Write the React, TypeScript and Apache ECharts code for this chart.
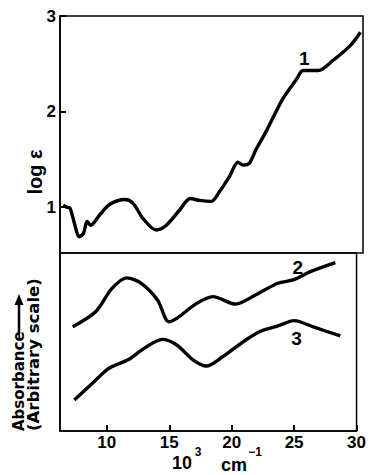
import React, { useEffect, useRef } from "react";
import * as echarts from "echarts";

const xTicks = [10, 15, 20, 25, 30];
const logTicks = [1, 2, 3];

const curve1: [number, number][] = [
  [6.5, 1.02], [6.77, 1.0], [7.03, 0.99], [7.4, 0.82], [7.74, 0.69], [8.07, 0.72], [8.38, 0.85],
  [8.64, 0.81], [9.37, 0.92], [10.16, 1.03], [11.33, 1.08], [11.98, 1.04], [12.76, 0.88],
  [13.8, 0.76], [14.58, 0.81], [15.63, 0.97], [16.46, 1.09], [17.19, 1.07], [18.1, 1.06],
  [18.74, 1.16], [19.53, 1.32], [20.2, 1.47], [20.6, 1.44], [21.1, 1.46], [21.6, 1.6],
  [22.4, 1.79], [23.7, 2.13], [24.8, 2.34], [25.3, 2.43], [26.5, 2.43], [27.6, 2.53],
  [29.0, 2.69], [29.8, 2.83],
];

const curve2: [number, number][] = [
  [7.27, 0.586], [9.1, 0.67], [10.4, 0.8], [11.6, 0.86], [12.76, 0.83], [14.06, 0.736],
  [14.97, 0.614], [15.6, 0.633], [17.2, 0.717], [18.5, 0.755], [20.3, 0.713], [21.9, 0.764],
  [23.7, 0.83], [25.0, 0.85], [26.3, 0.895], [28.3, 0.946],
];

const curve3: [number, number][] = [
  [7.4, 0.174], [8.85, 0.268], [10.16, 0.352], [11.7, 0.4], [13.0, 0.465], [14.45, 0.515],
  [15.6, 0.483], [16.9, 0.4], [17.97, 0.365], [19.27, 0.417], [21.1, 0.51], [22.4, 0.563],
  [23.7, 0.59], [25.0, 0.62], [26.6, 0.583], [28.7, 0.534],
];

const curveLabels = [
  { name: "1", grid: 0, pos: [25.4, 2.56] },
  { name: "2", grid: 1, pos: [25.3, 0.916] },
  { name: "3", grid: 1, pos: [25.2, 0.52] },
];

const FONT = "Liberation Sans";
const WIDE = "DejaVu Sans";

export default function App() {
  const ref = useRef<HTMLDivElement>(null);
  useEffect(() => {
    if (!ref.current) return;
    const chart = echarts.init(ref.current, null, { renderer: "svg" });
    const lineStyle = { color: "#000", width: 3.4 };
    const txt = (text: string, x: number, y: number, size: number, extra: any = {}) => ({
      type: "text", x, y, rotation: extra.rotation || 0,
      style: { text, fill: "#000", font: `bold ${size}px ${extra.family || FONT}`, align: extra.align || "center", verticalAlign: "middle" },
    });
    chart.setOption({
      animation: false,
      backgroundColor: "#fff",
      grid: [
        { left: 60, top: 16, width: 303, height: 237, show: true, borderColor: "#000", borderWidth: 1.5 },
        { left: 60, top: 253, width: 303, height: 178, show: true, borderColor: "#000", borderWidth: 1.5 },
      ],
      xAxis: [
        { gridIndex: 0, type: "value", min: 6.25, max: 30, show: false },
        {
          gridIndex: 1, type: "value", min: 6.25, max: 30,
          axisLine: { show: true, lineStyle: { color: "#000", width: 1.5 } },
          axisTick: { show: true, inside: true, length: 6, lineStyle: { color: "#000", width: 2 }, customValues: xTicks },
          axisLabel: { customValues: xTicks, color: "#000", fontFamily: FONT, fontWeight: "bold", fontSize: 17, margin: 3 },
          splitLine: { show: false },
        },
      ],
      yAxis: [
        {
          gridIndex: 0, type: "value", min: 0.52, max: 3,
          axisLine: { show: true, lineStyle: { color: "#000", width: 1.5 } },
          axisTick: { show: true, inside: true, length: 6, lineStyle: { color: "#000", width: 2 }, customValues: logTicks },
          axisLabel: { customValues: logTicks, color: "#000", fontFamily: FONT, fontWeight: "bold", fontSize: 17, margin: 4 },
          splitLine: { show: false },
        },
        {
          gridIndex: 1, type: "value", min: 0, max: 1,
          axisLine: { show: true, lineStyle: { color: "#000", width: 1.5 } },
          axisTick: { show: false }, axisLabel: { show: false }, splitLine: { show: false },
        },
      ],
      graphic: [
        txt("log ε", 35, 172, 20, { rotation: Math.PI / 2 }),
        txt("10", 182, 463, 18),
        txt("3", 198, 452, 12),
        txt("cm", 234, 465, 18),
        txt("−1", 255, 452, 12),
        txt("Absorbance", 19, 431, 15, { rotation: Math.PI / 2, align: "left", family: WIDE }),
        txt("(Arbitrary scale)", 33, 431, 16.5, { rotation: Math.PI / 2, align: "left", family: WIDE }),
        { type: "line", shape: { x1: 19, y1: 333, x2: 19, y2: 303 }, style: { stroke: "#000", lineWidth: 2.5 } },
        { type: "polygon", shape: { points: [[14.5, 305], [23.5, 305], [19, 294]] }, style: { fill: "#000" } },
      ],
      series: [
        { type: "line", xAxisIndex: 0, yAxisIndex: 0, data: curve1, smooth: 0.3, symbol: "none", lineStyle },
        { type: "line", xAxisIndex: 1, yAxisIndex: 1, data: curve2, smooth: 0.3, symbol: "none", lineStyle },
        { type: "line", xAxisIndex: 1, yAxisIndex: 1, data: curve3, smooth: 0.3, symbol: "none", lineStyle },
        ...curveLabels.map((c) => ({
          type: "scatter", xAxisIndex: c.grid, yAxisIndex: c.grid, symbolSize: 0,
          itemStyle: { opacity: 1 },
          data: [c.pos],
          label: { show: true, position: "inside", formatter: c.name, color: "#000", fontFamily: FONT, fontWeight: "bold", fontSize: 19 },
        })),
      ],
    });
    return () => chart.dispose();
  }, []);
  return <div ref={ref} style={{ width: 369, height: 475, position: "absolute", left: 0, top: 0 }} />;
}
